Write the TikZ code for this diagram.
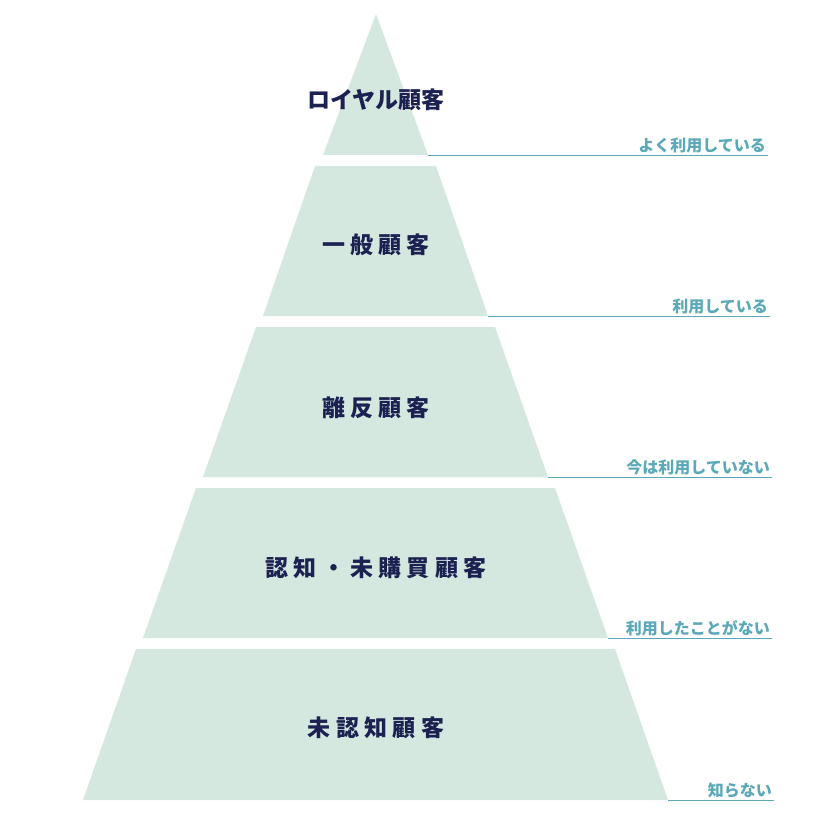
\documentclass[tikz,border=0pt]{standalone}
\usepackage{fontspec}
\newfontfamily\cjk{Noto Sans CJK JP}
\definecolor{layer}{HTML}{D5E8E0}
\definecolor{navy}{HTML}{1B2150}
\definecolor{lbl}{HTML}{5AA9B8}
\begin{document}
\begin{tikzpicture}[x=1pt,y=-1pt,
  layerfill/.style={fill=layer,draw=none},
  title/.style={font=\cjk\bfseries\fontsize{23}{26}\selectfont,text=navy},
  lab/.style={font=\cjk\bfseries\fontsize{16}{18}\selectfont,text=lbl,anchor=south east,inner sep=2pt},
  rule/.style={draw=lbl,line width=0.8pt}]
\useasboundingbox (0,0) rectangle (826,826);
\fill[layer] (376,14) -- (428,155) -- (323,155) -- cycle;
\fill[layer] (315,166) -- (436,166) -- (488,316) -- (263,316) -- cycle;
\fill[layer] (256,327) -- (495,327) -- (548,477) -- (203,477) -- cycle;
\fill[layer] (196,488) -- (555,488) -- (608,638) -- (143,638) -- cycle;
\fill[layer] (136,649) -- (615,649) -- (668,800) -- (83,800) -- cycle;
\node[title] (t1) at (376,100) {ロイヤル顧客};
\node[title] (t2) at (376,245) {一 般 顧 客};
\node[title] (t3) at (376,408) {離 反 顧 客};
\node[title] (t4) at (376,568) {認 知 ・ 未 購 買 顧 客};
\node[title] (t5) at (376,728) {未 認 知 顧 客};
\coordinate (a1) at (428,155); \coordinate (b1) at (768,155);
\coordinate (a2) at (488,316); \coordinate (b2) at (770,316);
\coordinate (a3) at (548,477); \coordinate (b3) at (772,477);
\coordinate (a4) at (608,638); \coordinate (b4) at (772,638);
\coordinate (a5) at (668,800); \coordinate (b5) at (774,800);
\draw[rule] (a1) -- (b1); \draw[rule] (a2) -- (b2); \draw[rule] (a3) -- (b3);
\draw[rule] (a4) -- (b4); \draw[rule] (a5) -- (b5);
\node[lab] (l1) at (b1) {よく利用している};
\node[lab] (l2) at (b2) {利用している};
\node[lab] (l3) at (b3) {今は利用していない};
\node[lab] (l4) at (b4) {利用したことがない};
\node[lab] (l5) at (b5) {知らない};
\end{tikzpicture}
\end{document}
